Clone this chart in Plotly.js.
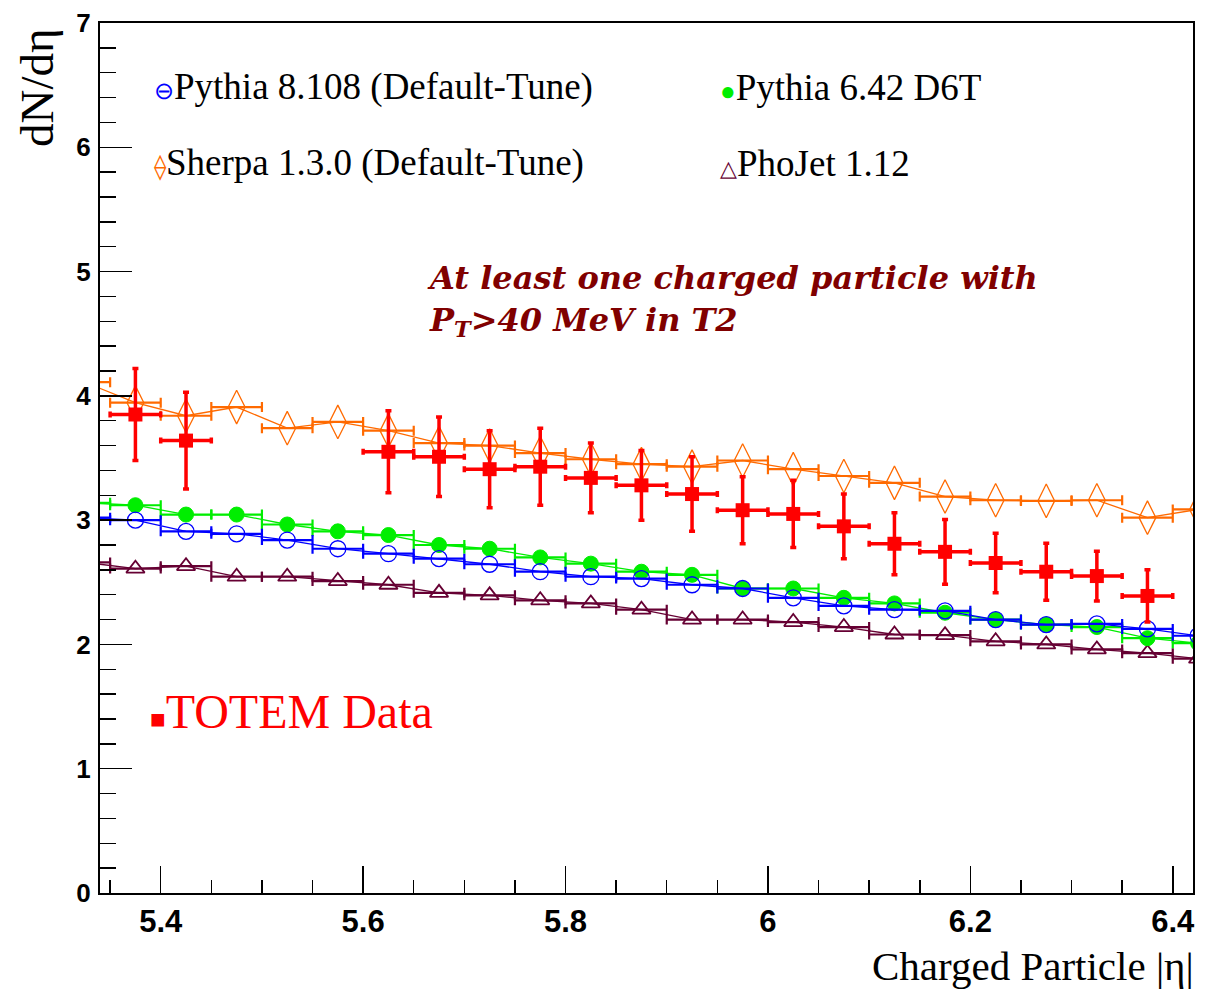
<!DOCTYPE html>
<html>
<head>
<meta charset="utf-8">
<script src="https://cdn.plot.ly/plotly-3.0.1.min.js"></script>
<style>html,body{margin:0;padding:0;background:#fff;}#chart{width:1218px;height:992px;}</style>
</head>
<body>
<div id="chart"></div>
<script>
// Bin centres (|eta|) for the MC histograms
const etaMC = [5.325, 5.375, 5.425, 5.475, 5.525, 5.575, 5.625, 5.675, 5.725, 5.775, 5.825, 5.875,
               5.925, 5.975, 6.025, 6.075, 6.125, 6.175, 6.225, 6.275, 6.325, 6.375, 6.425];
const pythia8 = [3.02, 3.00, 2.91, 2.89, 2.84, 2.77, 2.73, 2.69, 2.645, 2.585, 2.545, 2.53,
                 2.48, 2.45, 2.375, 2.31, 2.28, 2.27, 2.20, 2.16, 2.165, 2.125, 2.07];
const pythia6 = [3.14, 3.12, 3.045, 3.045, 2.965, 2.91, 2.88, 2.80, 2.77, 2.70, 2.65, 2.585,
                 2.56, 2.45, 2.45, 2.375, 2.33, 2.255, 2.20, 2.16, 2.14, 2.05, 2.01];
const sherpa  = [4.11, 3.945, 3.84, 3.91, 3.74, 3.79, 3.72, 3.62, 3.60, 3.54, 3.49, 3.45,
                 3.43, 3.48, 3.41, 3.355, 3.30, 3.19, 3.16, 3.155, 3.16, 3.02, 3.086];
const phojet  = [2.66, 2.61, 2.63, 2.545, 2.545, 2.51, 2.48, 2.415, 2.395, 2.355, 2.33, 2.28,
                 2.20, 2.20, 2.18, 2.14, 2.08, 2.075, 2.025, 2.00, 1.96, 1.93, 1.885];
const binHalfWidth = 0.025;

// TOTEM data
const etaData = [5.375, 5.425, 5.625, 5.675, 5.725, 5.775, 5.825, 5.875, 5.925, 5.975, 6.025, 6.075,
                 6.125, 6.175, 6.225, 6.275, 6.325, 6.375];
const totem    = [3.85, 3.64, 3.55, 3.51, 3.41, 3.43, 3.34, 3.28, 3.21, 3.08, 3.05, 2.95,
                  2.81, 2.745, 2.655, 2.585, 2.55, 2.39];
const totemErr = [0.37, 0.39, 0.33, 0.32, 0.31, 0.31, 0.28, 0.28, 0.30, 0.27, 0.27, 0.26,
                  0.25, 0.26, 0.24, 0.23, 0.20, 0.21];

const xTicks = [5.4, 5.6, 5.8, 6.0, 6.2, 6.4];
const xTickText = ['5.4', '5.6', '5.8', '6', '6.2', '6.4'];
const yTicks = [0, 1, 2, 3, 4, 5, 6, 7];

function mcTrace(name, y, color, symbol, size, lw) {
  return {
    name: name, x: etaMC, y: y, type: 'scatter', mode: 'lines+markers',
    line: {color: color, width: 1.3},
    marker: {symbol: symbol, size: size, color: color, line: {color: color, width: lw}},
    error_x: {type: 'constant', value: binHalfWidth, color: color, thickness: 2.2, width: 5},
    showlegend: false, hoverinfo: 'x+y'
  };
}

const traces = [
  mcTrace('Sherpa 1.3.0 (Default-Tune)', sherpa, '#ff6a00', 'diamond-tall-open', 24, 1.3),
  mcTrace('PhoJet 1.12', phojet, '#660033', 'triangle-up-open', 16, 1.8),
  mcTrace('Pythia 6.42 D6T', pythia6, '#00ee00', 'circle', 15, 1),
  mcTrace('Pythia 8.108 (Default-Tune)', pythia8, '#0000ff', 'circle-open', 16, 1.3),
  {
    name: 'TOTEM Data', x: etaData, y: totem, type: 'scatter', mode: 'markers',
    marker: {symbol: 'square', size: 14, color: '#ff0000'},
    error_x: {type: 'constant', value: binHalfWidth, color: '#ff0000', thickness: 3.5, width: 3},
    error_y: {type: 'data', array: totemErr, color: '#ff0000', thickness: 3.5, width: 3},
    showlegend: false
  }
];

const serif = 'Liberation Serif, Times New Roman, serif';
function px2x(p) { return (p - 100) / 1093; }
function px2y(p) { return (893 - p) / 870; }

const legendFont = {family: serif, size: 37, color: '#000'};
const annotations = [
  {xref: 'paper', yref: 'paper', x: px2x(152), y: px2y(87), xanchor: 'left', yanchor: 'middle', showarrow: false,
   text: '<span style="color:#0000ff;font-size:24px">⊖</span>Pythia 8.108 (Default-Tune)', font: legendFont},
  {xref: 'paper', yref: 'paper', x: px2x(152), y: px2y(163), xanchor: 'left', yanchor: 'middle', showarrow: false,
   text: '<span style="color:#ff6a00;font-size:25px">⟠</span>Sherpa 1.3.0 (Default-Tune)', font: legendFont},
  {xref: 'paper', yref: 'paper', x: px2x(718), y: px2y(87), xanchor: 'left', yanchor: 'middle', showarrow: false,
   text: '<span style="color:#00ee00;font-size:26px">●</span>Pythia 6.42 D6T', font: legendFont},
  {xref: 'paper', yref: 'paper', x: px2x(718), y: px2y(163), xanchor: 'left', yanchor: 'middle', showarrow: false,
   text: '<span style="color:#660033;font-size:22px">△</span>PhoJet 1.12', font: legendFont},
  {xref: 'paper', yref: 'paper', x: px2x(148), y: px2y(711), xanchor: 'left', yanchor: 'middle', showarrow: false,
   text: '<span style="font-size:26px">■</span>TOTEM Data', font: {family: serif, size: 48, color: '#ff0000'}},
  {xref: 'paper', yref: 'paper', x: px2x(425), y: px2y(300), xanchor: 'left', yanchor: 'middle', align: 'left', showarrow: false,
   text: '<b><i>At least one charged particle with<br>P<sub>T</sub>&gt;40 MeV in T2</i></b>',
   font: {family: 'DejaVu Serif, serif', size: 32, color: '#800000'}},
  {xref: 'paper', yref: 'paper', x: px2x(37), y: px2y(88), xanchor: 'center', yanchor: 'middle', textangle: -90, showarrow: false,
   text: 'dN/dη', font: {family: serif, size: 47, color: '#000'}},
  {xref: 'paper', yref: 'paper', x: px2x(1196), y: px2y(966), xanchor: 'right', yanchor: 'middle', showarrow: false,
   text: 'Charged Particle |η|', font: {family: serif, size: 41, color: '#000'}}
];

const layout = {
  width: 1218, height: 992,
  margin: {l: 100, r: 25, t: 23, b: 99, pad: 0},
  paper_bgcolor: '#fff', plot_bgcolor: '#fff',
  showlegend: false,
  xaxis: {
    range: [5.34, 6.42], showgrid: false, zeroline: false,
    showline: true, linecolor: '#000', linewidth: 2, mirror: true,
    ticks: 'inside', ticklen: 27, tickwidth: 1.5, tickcolor: '#000',
    tickvals: xTicks, ticktext: xTickText,
    tickfont: {family: 'Liberation Sans, Arial, sans-serif', size: 31, weight: 'bold', color: '#000'},
    ticklabelstandoff: 0,
    minor: {dtick: 0.05, tick0: 5.35, ticks: 'inside', ticklen: 13, tickwidth: 1.5, tickcolor: '#000', showgrid: false}
  },
  yaxis: {
    range: [0, 7], showgrid: false, zeroline: false,
    showline: true, linecolor: '#000', linewidth: 2, mirror: true,
    ticks: 'inside', ticklen: 32, tickwidth: 1.5, tickcolor: '#000',
    tickvals: yTicks,
    tickfont: {family: 'Liberation Sans, Arial, sans-serif', size: 26, weight: 'bold', color: '#000'},
    ticklabelstandoff: 2,
    minor: {dtick: 0.2, ticks: 'inside', ticklen: 16, tickwidth: 1.5, tickcolor: '#000', showgrid: false}
  },
  annotations: annotations
};

Plotly.newPlot('chart', traces, layout, {staticPlot: true, displayModeBar: false});
</script>
</body>
</html>
